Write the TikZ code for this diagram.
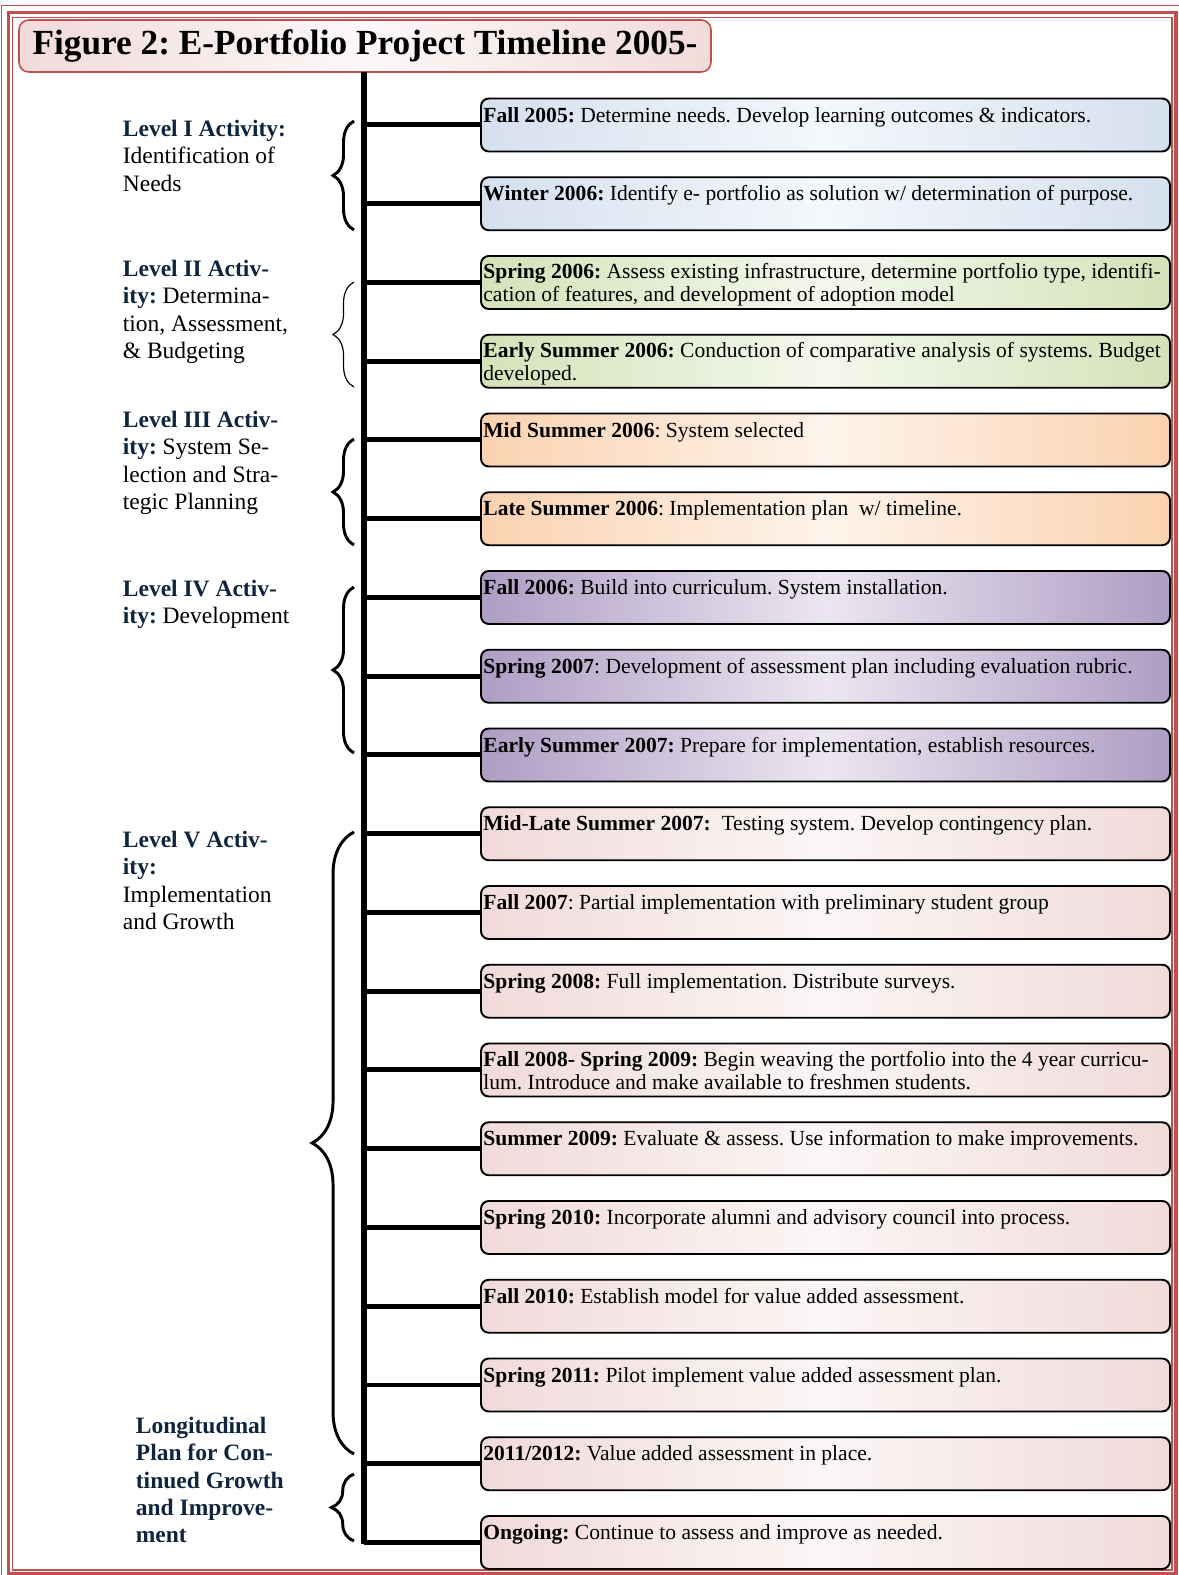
\documentclass[tikz,border=0pt]{standalone}
\usepackage{fontspec}
\setmainfont{Liberation Serif}
\usetikzlibrary{positioning,decorations.pathreplacing}
\newdimen\pxu
\pxu=0.5106pt
\definecolor{framered}{HTML}{C0504D}
\definecolor{lvlnavy}{HTML}{0F243E}
\definecolor{lvlblue}{HTML}{D5E0EF}
\definecolor{lvlgreen}{HTML}{D4E2B8}
\definecolor{lvlorange}{HTML}{FBD2B0}
\definecolor{lvlpurple}{HTML}{AE9DC4}
\definecolor{lvlpink}{HTML}{F1DADA}
\newcommand\lvlhead[1]{\textcolor{lvlnavy}{\bfseries #1}}
\frenchspacing
\tikzset{
  evbox/.style={draw=black, line width=1pt, rounded corners=4pt, anchor=north west,
    minimum width=689*\pxu, minimum height=53*\pxu, inner sep=0pt,
    left color=#1, right color=#1, middle color=#1!25!white},
  evtext/.style={anchor=north west, inner sep=0pt, align=left, execute at begin node=\strut,
    font=\fontsize{11}{11.9}\selectfont},
  lvltext/.style={anchor=north west, inner sep=0pt, align=left, execute at begin node=\strut,
    font=\fontsize{12}{13.9}\selectfont},
  evtick/.style={line width=2.55pt},
  spineline/.style={line width=2.8pt},
  lvlbrace/.style={decorate, decoration={brace, amplitude=#1}, line width=1.5pt},
}
\begin{document}
\begin{tikzpicture}[x=0.5106pt,y=-0.5106pt]
  \useasboundingbox (0,0) rectangle (1178,1575);

  % page frame
  \draw[framered, line width=0.7pt] (1.5,5.5) rectangle (1184,1580);
  \draw[framered, line width=1.6pt] (8.5,12.5) rectangle (1176,1573.5);
  \draw[framered, line width=0.7pt] (12.5,17.5) rectangle (1172,1570);

  \node[draw=framered, line width=0.8pt, rounded corners=5pt, minimum width=692*\pxu,
    minimum height=52*\pxu, left color=lvlpink, right color=lvlpink, middle color=lvlpink!20!white,
    font=\fontsize{18}{20}\selectfont\bfseries] (title) at (365,46) {Figure 2: E-Portfolio Project Timeline 2005-};

  \coordinate (spinetop) at (364,72);
  \coordinate (spinebot) at (364,1544);
  \draw[spineline] (spinetop) -- (spinebot);

  % events
  \node[evbox=lvlblue] (fall05) at (480,97.5) {};
  \node[evbox=lvlblue] (win06) at (480,176.25) {};
  \node[evbox=lvlgreen] (spr06) at (480,255) {};
  \node[evbox=lvlgreen] (esum06) at (480,333.75) {};
  \node[evbox=lvlorange] (msum06) at (480,412.5) {};
  \node[evbox=lvlorange] (lsum06) at (480,491.25) {};
  \node[evbox=lvlpurple] (fall06) at (480,570) {};
  \node[evbox=lvlpurple] (spr07) at (480,648.75) {};
  \node[evbox=lvlpurple] (esum07) at (480,727.5) {};
  \node[evbox=lvlpink] (mlsum07) at (480,806.25) {};
  \node[evbox=lvlpink] (fall07) at (480,885) {};
  \node[evbox=lvlpink] (spr08) at (480,963.75) {};
  \node[evbox=lvlpink] (fall08) at (480,1042.5) {};
  \node[evbox=lvlpink] (sum09) at (480,1121.25) {};
  \node[evbox=lvlpink] (spr10) at (480,1200) {};
  \node[evbox=lvlpink] (fall10) at (480,1278.75) {};
  \node[evbox=lvlpink] (spr11) at (480,1357.5) {};
  \node[evbox=lvlpink] (y1112) at (480,1436.25) {};
  \node[evbox=lvlpink] (ongoing) at (480,1515) {};

  \node[evtext] (fall05t) at ([shift={(3,8)}]fall05.north west) {\textbf{Fall 2005:} Determine needs. Develop learning outcomes \& indicators.};
  \node[evtext] (win06t) at ([shift={(3,8)}]win06.north west) {\textbf{Winter 2006:} Identify e- portfolio as solution w/ determination of purpose.};
  \node[evtext] (spr06t) at ([shift={(3,8)}]spr06.north west) {\textbf{Spring 2006:} Assess existing infrastructure, determine portfolio type, identifi-\\cation of features, and development of adoption model};
  \node[evtext] (esum06t) at ([shift={(3,8)}]esum06.north west) {\textbf{Early Summer 2006:} Conduction of comparative analysis of systems. Budget\\developed.};
  \node[evtext] (msum06t) at ([shift={(3,8)}]msum06.north west) {\textbf{Mid Summer 2006}: System selected};
  \node[evtext] (lsum06t) at ([shift={(3,8)}]lsum06.north west) {\textbf{Late Summer 2006}: Implementation plan\ \ w/ timeline.};
  \node[evtext] (fall06t) at ([shift={(3,8)}]fall06.north west) {\textbf{Fall 2006:} Build into curriculum. System installation.};
  \node[evtext] (spr07t) at ([shift={(3,8)}]spr07.north west) {\textbf{Spring 2007}: Development of assessment plan including evaluation rubric.};
  \node[evtext] (esum07t) at ([shift={(3,8)}]esum07.north west) {\textbf{Early Summer 2007:} Prepare for implementation, establish resources.};
  \node[evtext] (mlsum07t) at ([shift={(3,8)}]mlsum07.north west) {\textbf{Mid-Late Summer 2007:}\ \ Testing system. Develop contingency plan.};
  \node[evtext] (fall07t) at ([shift={(3,8)}]fall07.north west) {\textbf{Fall 2007}: Partial implementation with preliminary student group};
  \node[evtext] (spr08t) at ([shift={(3,8)}]spr08.north west) {\textbf{Spring 2008:} Full implementation. Distribute surveys.};
  \node[evtext] (fall08t) at ([shift={(3,8)}]fall08.north west) {\textbf{Fall 2008- Spring 2009:} Begin weaving the portfolio into the 4 year curricu-\\lum. Introduce and make available to freshmen students.};
  \node[evtext] (sum09t) at ([shift={(3,8)}]sum09.north west) {\textbf{Summer 2009:} Evaluate \& assess. Use information to make improvements.};
  \node[evtext] (spr10t) at ([shift={(3,8)}]spr10.north west) {\textbf{Spring 2010:} Incorporate alumni and advisory council into process.};
  \node[evtext] (fall10t) at ([shift={(3,8)}]fall10.north west) {\textbf{Fall 2010:} Establish model for value added assessment.};
  \node[evtext] (spr11t) at ([shift={(3,8)}]spr11.north west) {\textbf{Spring 2011:} Pilot implement value added assessment plan.};
  \node[evtext] (y1112t) at ([shift={(3,8)}]y1112.north west) {\textbf{2011/2012:} Value added assessment in place.};
  \node[evtext] (ongoingt) at ([shift={(3,8)}]ongoing.north west) {\textbf{Ongoing:} Continue to assess and improve as needed.};

  % ticks from the spine
  \draw[evtick] (spinetop |- fall05.west) -- (fall05.west);
  \draw[evtick] (spinetop |- win06.west) -- (win06.west);
  \draw[evtick] (spinetop |- spr06.west) -- (spr06.west);
  \draw[evtick] (spinetop |- esum06.west) -- (esum06.west);
  \draw[evtick] (spinetop |- msum06.west) -- (msum06.west);
  \draw[evtick] (spinetop |- lsum06.west) -- (lsum06.west);
  \draw[evtick] (spinetop |- fall06.west) -- (fall06.west);
  \draw[evtick] (spinetop |- spr07.west) -- (spr07.west);
  \draw[evtick] (spinetop |- esum07.west) -- (esum07.west);
  \draw[evtick] (spinetop |- mlsum07.west) -- (mlsum07.west);
  \draw[evtick] (spinetop |- fall07.west) -- (fall07.west);
  \draw[evtick] (spinetop |- spr08.west) -- (spr08.west);
  \draw[evtick] (spinetop |- fall08.west) -- (fall08.west);
  \draw[evtick] (spinetop |- sum09.west) -- (sum09.west);
  \draw[evtick] (spinetop |- spr10.west) -- (spr10.west);
  \draw[evtick] (spinetop |- fall10.west) -- (fall10.west);
  \draw[evtick] (spinetop |- spr11.west) -- (spr11.west);
  \draw[evtick] (spinetop |- y1112.west) -- (y1112.west);
  \draw[evtick] (spinetop |- ongoing.west) -- (ongoing.west);

  % level braces
  \draw[lvlbrace=10.7pt] (354,230) -- (354,121);
  \draw[lvlbrace=10.7pt, line width=0.6pt] (354,387) -- (354,282);
  \draw[lvlbrace=10.7pt] (354,545) -- (354,439);
  \draw[lvlbrace=10.7pt] (354,753) -- (354,587);
  \draw[lvlbrace=21.4pt] (354,1454) -- (354,832);
  \draw[lvlbrace=11.5pt] (354,1541) -- (354,1474);

  % level labels
  \node[lvltext] (lvl1) at (122.5,120) {\lvlhead{Level I Activity:}\\Identification of\\Needs};
  \node[lvltext] (lvl2) at (122.5,260) {\lvlhead{Level II Activ-}\\\lvlhead{ity:} Determina-\\tion, Assessment,\\\& Budgeting};
  \node[lvltext] (lvl3) at (122.5,411) {\lvlhead{Level III Activ-}\\\lvlhead{ity:} System Se-\\lection and Stra-\\tegic Planning};
  \node[lvltext] (lvl4) at (122.5,580) {\lvlhead{Level IV Activ-}\\\lvlhead{ity:} Development};
  \node[lvltext] (lvl5) at (122.5,831) {\lvlhead{Level V Activ-}\\\lvlhead{ity:}\\Implementation\\and Growth};
  \node[lvltext] (lvl6) at (135.5,1417) {\lvlhead{Longitudinal}\\\lvlhead{Plan for Con-}\\\lvlhead{tinued Growth}\\\lvlhead{and Improve-}\\\lvlhead{ment}};
\end{tikzpicture}
\end{document}
